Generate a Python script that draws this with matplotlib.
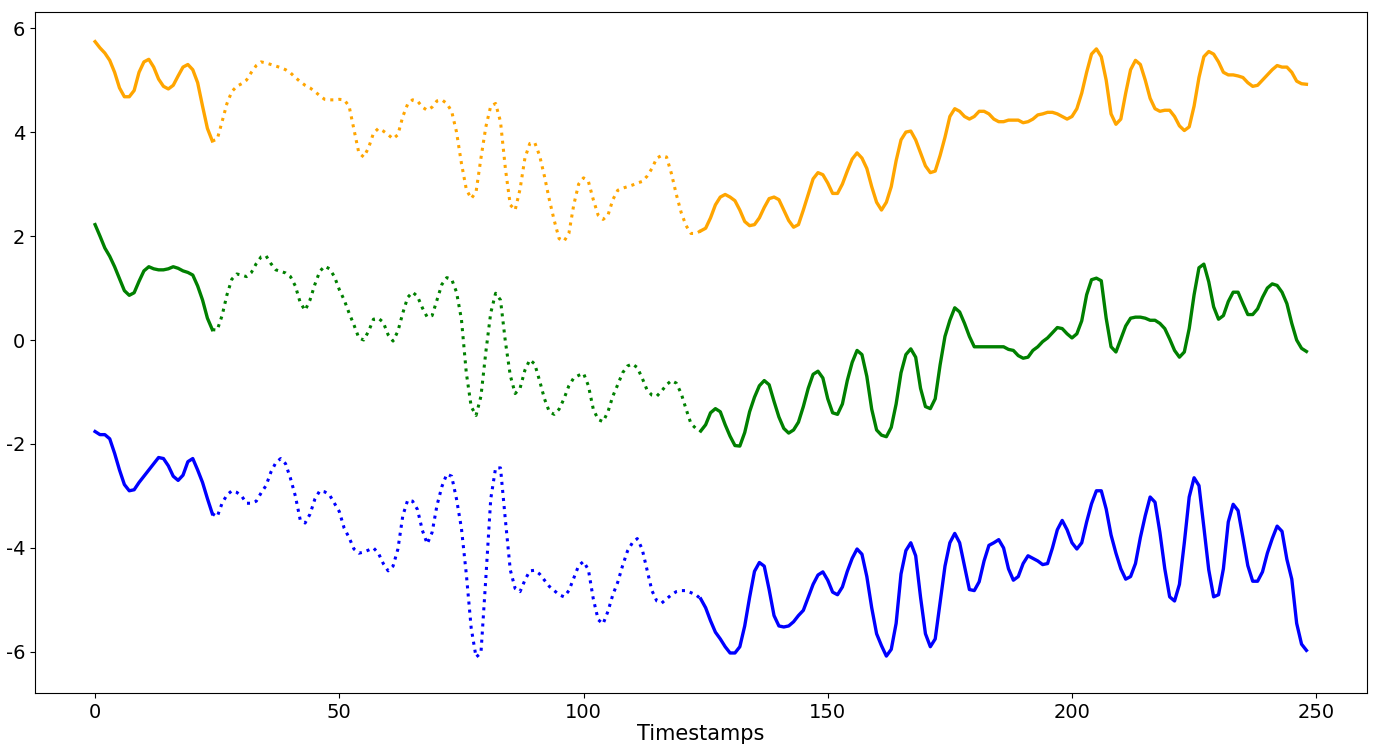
import matplotlib
matplotlib.use("Agg")
import matplotlib.pyplot as plt
import numpy as np

plt.rcParams['axes.unicode_minus'] = False

orange = [5.74, 5.62, 5.52, 5.38, 5.15, 4.85, 4.68, 4.68, 4.8, 5.15, 5.35, 5.4, 5.25, 5.02, 4.88, 4.83, 4.9, 5.08, 5.25, 5.3,
          5.2, 4.95, 4.5, 4.07, 3.83, 3.86, 4.2, 4.55, 4.78, 4.88, 4.93, 5.0, 5.15, 5.28, 5.35, 5.33, 5.3, 5.27, 5.24, 5.2,
          5.14, 5.05, 4.97, 4.9, 4.85, 4.78, 4.7, 4.63, 4.62, 4.62, 4.63, 4.62, 4.5, 4.05, 3.6, 3.52, 3.7, 3.98, 4.07, 4.02,
          3.95, 3.87, 3.95, 4.3, 4.54, 4.62, 4.6, 4.48, 4.42, 4.48, 4.6, 4.62, 4.55, 4.4, 4.0, 3.4, 2.9, 2.72, 2.85, 3.5,
          4.1, 4.5, 4.55, 4.2, 3.3, 2.6, 2.5, 2.9, 3.5, 3.78, 3.8, 3.55, 3.15, 2.7, 2.3, 1.95, 1.9, 2.05, 2.6, 3.0,
          3.12, 3.05, 2.7, 2.4, 2.32, 2.4, 2.7, 2.88, 2.92, 2.95, 2.98, 3.02, 3.05, 3.15, 3.3, 3.5, 3.55, 3.52, 3.2, 2.8,
          2.45, 2.2, 2.05, 2.05, 2.1, 2.15, 2.35, 2.6, 2.75, 2.8, 2.75, 2.68, 2.5, 2.28, 2.2, 2.22, 2.35, 2.55, 2.72, 2.75,
          2.7, 2.5, 2.3, 2.17, 2.22, 2.5, 2.8, 3.1, 3.22, 3.18, 3.02, 2.82, 2.82, 3.0, 3.25, 3.48, 3.6, 3.5, 3.3, 2.95,
          2.65, 2.5, 2.65, 2.95, 3.45, 3.85, 4.0, 4.02, 3.85, 3.6, 3.35, 3.22, 3.25, 3.55, 3.9, 4.3, 4.45, 4.4, 4.3, 4.25,
          4.3, 4.4, 4.4, 4.35, 4.25, 4.2, 4.2, 4.23, 4.23, 4.23, 4.18, 4.2, 4.25, 4.33, 4.35, 4.38, 4.38, 4.35, 4.3, 4.25,
          4.3, 4.45, 4.75, 5.15, 5.5, 5.6, 5.45, 5.0, 4.35, 4.15, 4.25, 4.75, 5.2, 5.38, 5.3, 5.0, 4.65, 4.45, 4.4, 4.42,
          4.42, 4.3, 4.12, 4.03, 4.1, 4.5, 5.05, 5.45, 5.55, 5.5, 5.35, 5.15, 5.1, 5.1, 5.08, 5.05, 4.95, 4.88, 4.9, 5.0,
          5.1, 5.2, 5.28, 5.25, 5.25, 5.15, 4.98, 4.93, 4.92]

green = [2.22, 2.0, 1.77, 1.61, 1.41, 1.18, 0.95, 0.86, 0.91, 1.13, 1.33, 1.41, 1.37, 1.35, 1.35, 1.37, 1.41, 1.38, 1.33, 1.3,
         1.25, 1.04, 0.77, 0.42, 0.2, 0.19, 0.47, 0.87, 1.17, 1.27, 1.25, 1.22, 1.3, 1.47, 1.6, 1.62, 1.47, 1.35, 1.32, 1.29,
         1.22, 1.04, 0.72, 0.57, 0.77, 1.07, 1.32, 1.42, 1.37, 1.22, 0.97, 0.77, 0.52, 0.29, 0.04, 0.0, 0.17, 0.4, 0.42, 0.34,
         0.1, -0.02, 0.17, 0.52, 0.82, 0.92, 0.84, 0.62, 0.44, 0.47, 0.77, 1.07, 1.2, 1.17, 0.92, 0.4, -0.63, -1.28, -1.45, -1.08,
         -0.23, 0.52, 0.9, 0.77, -0.03, -0.68, -1.03, -0.93, -0.58, -0.38, -0.46, -0.78, -1.13, -1.38, -1.43, -1.33, -1.13, -0.88, -0.73, -0.68,
         -0.64, -0.88, -1.33, -1.53, -1.57, -1.38, -1.08, -0.86, -0.63, -0.5, -0.46, -0.53, -0.73, -0.96, -1.06, -1.08, -0.98, -0.86, -0.78, -0.83,
         -1.03, -1.33, -1.61, -1.7, -1.75, -1.63, -1.4, -1.32, -1.38, -1.63, -1.85, -2.03, -2.04, -1.78, -1.38, -1.1, -0.88, -0.78, -0.86, -1.18,
         -1.48, -1.7, -1.79, -1.73, -1.58, -1.28, -0.93, -0.66, -0.6, -0.73, -1.13, -1.4, -1.43, -1.23, -0.78, -0.43, -0.2, -0.28, -0.7, -1.33,
         -1.73, -1.83, -1.86, -1.68, -1.23, -0.63, -0.28, -0.17, -0.33, -0.93, -1.28, -1.32, -1.13, -0.48, 0.07, 0.38, 0.62, 0.54, 0.32, 0.07,
         -0.13, -0.13, -0.13, -0.13, -0.13, -0.13, -0.13, -0.18, -0.2, -0.3, -0.35, -0.33, -0.2, -0.13, -0.03, 0.04, 0.14, 0.24, 0.22, 0.12,
         0.04, 0.12, 0.37, 0.87, 1.16, 1.19, 1.14, 0.42, -0.13, -0.23, 0.02, 0.27, 0.42, 0.44, 0.44, 0.42, 0.38, 0.38, 0.32, 0.22,
         0.02, -0.2, -0.33, -0.23, 0.22, 0.87, 1.39, 1.46, 1.12, 0.64, 0.4, 0.47, 0.74, 0.92, 0.92, 0.7, 0.49, 0.49, 0.6, 0.82,
         1.0, 1.08, 1.05, 0.92, 0.7, 0.32, 0.0, -0.16, -0.22]

blue = [-1.76, -1.82, -1.82, -1.9, -2.18, -2.5, -2.78, -2.9, -2.88, -2.74, -2.62, -2.5, -2.38, -2.26, -2.28, -2.42, -2.62, -2.7, -2.6, -2.34,
        -2.28, -2.5, -2.74, -3.05, -3.34, -3.4, -3.14, -2.98, -2.9, -2.93, -3.0, -3.14, -3.14, -3.1, -2.94, -2.8, -2.54, -2.36, -2.28, -2.38,
        -2.66, -3.0, -3.46, -3.52, -3.35, -3.06, -2.9, -2.92, -2.98, -3.14, -3.3, -3.62, -3.8, -4.02, -4.1, -4.08, -4.04, -4.0, -4.1, -4.3,
        -4.44, -4.35, -4.02, -3.38, -3.08, -3.1, -3.26, -3.66, -3.92, -3.7, -3.18, -2.82, -2.58, -2.62, -3.06, -3.62, -4.5, -5.54, -6.1, -6.02,
        -4.58, -3.06, -2.46, -2.46, -3.46, -4.42, -4.78, -4.84, -4.62, -4.44, -4.43, -4.5, -4.62, -4.74, -4.82, -4.9, -4.94, -4.82, -4.58, -4.34,
        -4.26, -4.42, -4.98, -5.38, -5.46, -5.22, -4.9, -4.66, -4.34, -4.06, -3.9, -3.82, -4.02, -4.42, -4.82, -5.02, -5.06, -4.98, -4.9, -4.84,
        -4.82, -4.82, -4.86, -4.9, -4.98, -5.15, -5.4, -5.62, -5.75, -5.9, -6.02, -6.02, -5.9, -5.5, -4.95, -4.45, -4.28, -4.35, -4.8, -5.3,
        -5.5, -5.52, -5.5, -5.42, -5.3, -5.2, -4.95, -4.7, -4.52, -4.46, -4.62, -4.85, -4.9, -4.75, -4.45, -4.2, -4.02, -4.12, -4.55, -5.15,
        -5.65, -5.88, -6.08, -5.95, -5.45, -4.5, -4.05, -3.9, -4.15, -4.95, -5.65, -5.9, -5.75, -5.05, -4.35, -3.9, -3.72, -3.9, -4.35, -4.8,
        -4.82, -4.65, -4.25, -3.95, -3.9, -3.84, -4.0, -4.4, -4.62, -4.55, -4.3, -4.15, -4.2, -4.25, -4.32, -4.3, -4.0, -3.65, -3.47, -3.65,
        -3.9, -4.02, -3.9, -3.5, -3.15, -2.9, -2.9, -3.25, -3.75, -4.1, -4.4, -4.6, -4.55, -4.3, -3.8, -3.38, -3.02, -3.12, -3.7, -4.4,
        -4.94, -5.02, -4.7, -3.9, -3.02, -2.65, -2.8, -3.6, -4.42, -4.94, -4.9, -4.4, -3.5, -3.16, -3.28, -3.8, -4.34, -4.64, -4.64, -4.46,
        -4.1, -3.82, -3.58, -3.68, -4.22, -4.6, -5.45, -5.85, -5.97]

series = [(orange, "orange"), (green, "green"), (blue, "blue")]
seg_a, seg_b = 24, 124

fig = plt.figure(figsize=(13.76, 7.49), dpi=100)
ax = fig.add_axes([35/1376, 56/749, 1332/1376, 681/749])
for vals, col in series:
    n = len(vals)
    t = np.arange(n)
    v = np.array(vals)
    ax.plot(t[:seg_a+1], v[:seg_a+1], color=col, lw=2.4, ls='-')
    ax.plot(t[seg_a:seg_b+1], v[seg_a:seg_b+1], color=col, lw=2.2, ls=':')
    ax.plot(t[seg_b:], v[seg_b:], color=col, lw=2.4, ls='-')
ax.set_ylim(-6.79, 6.31)
ax.set_xlim(-12.3, 260.4)
ax.set_xticks([0, 50, 100, 150, 200, 250])
ax.set_yticks([-6, -4, -2, 0, 2, 4, 6])
ax.tick_params(labelsize=14)
ax.set_xlabel("Timestamps", fontsize=15, labelpad=2)
fig.savefig("out.png", dpi=100)
